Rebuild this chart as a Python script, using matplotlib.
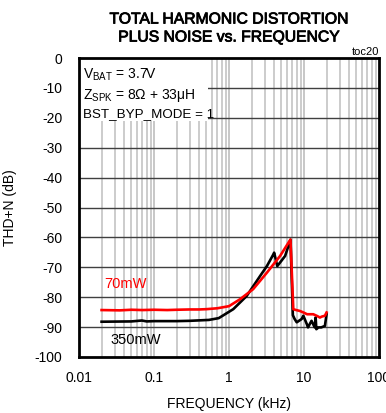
import matplotlib
matplotlib.use("Agg")
import matplotlib.pyplot as plt
import matplotlib.patheffects as pe
import numpy as np

# ---- data ----
freq_70mw = [0.02, 0.035, 0.05, 0.07, 0.1, 0.15, 0.2, 0.3, 0.4, 0.5, 0.7, 1.0, 1.4, 2.1, 3.2, 4.8, 6.6,
             7.2, 7.6, 8.8, 9.8, 11.0, 13.3, 15.0, 16.3, 17.2, 19.0, 20.0]
thd_70mw = [-84.3, -84.4, -84.2, -84.3, -84.2, -84.3, -84.2, -84.1, -84.1, -84.0, -83.7, -83.0, -80.7, -77.3,
            -71.8, -66.2, -60.7, -84.0, -84.2, -84.6, -85.1, -85.7, -85.7, -86.3, -86.8, -86.5, -86.2, -85.1]

freq_350mw = [0.02, 0.05, 0.069, 0.08, 0.1, 0.2, 0.3, 0.54, 0.73, 0.94, 1.14, 1.72, 2.6, 3.2, 3.9, 4.0,
              4.4, 4.8, 5.6, 6.6, 7.1, 7.5, 8.0, 9.3, 9.8, 10.9, 11.3, 12.6, 13.9, 14.3, 14.6, 15.6, 17.0,
              19.0, 20.0]
thd_350mw = [-88.2, -88.1, -87.8, -88.1, -88.0, -88.0, -87.9, -87.6, -87.0, -85.3, -84.0, -79.6, -72.9,
             -69.6, -65.7, -65.1, -69.6, -68.4, -66.2, -60.8, -86.0, -87.3, -88.4, -87.3, -86.2, -89.0,
             -90.1, -87.9, -90.1, -86.8, -90.7, -90.1, -90.1, -89.6, -85.7]

x_ticks = [0.01, 0.1, 1, 10, 100]
x_tick_labels = ["0.01", "0.1", "1", "10", "100"]
y_ticks = list(range(-100, 1, 10))

title = "TOTAL HARMONIC DISTORTION\nPLUS NOISE vs. FREQUENCY"

# ---- style ----
plt.rcParams['font.family'] = ['Liberation Sans', 'DejaVu Sans']
plt.rcParams['mathtext.fontset'] = 'custom'
plt.rcParams['mathtext.rm'] = 'Liberation Sans'
plt.rcParams['mathtext.it'] = 'Liberation Sans'
plt.rcParams['axes.unicode_minus'] = False

fig = plt.figure(figsize=(3.86, 4.13), dpi=100)
ax = fig.add_axes([79/386, 1-357/413, 300/386, 299/413])
ax.set_xscale('log')
ax.set_xlim(0.01, 100)
ax.set_ylim(-100, 0)

# grid
for dec in [0.01, 0.1, 1, 10]:
    for m in range(1, 11):
        v = dec * m
        if 0.01 < v < 100:
            ax.axvline(v, color='#c8c8c8', lw=1.3, zorder=0.5)
for yv in y_ticks[1:-1]:
    ax.axhline(yv, color='#404040', lw=1.0, zorder=0.6)

ax.plot(freq_350mw, thd_350mw, color='black', lw=1.9, zorder=3)
ax.plot(freq_70mw, thd_70mw, color='#ff0000', lw=1.9, zorder=4)

ax.set_xticks(x_ticks)
ax.set_xticklabels(x_tick_labels)
ax.set_yticks(y_ticks)
ax.xaxis.set_minor_locator(matplotlib.ticker.NullLocator())
ax.tick_params(axis='both', length=0, labelsize=10, colors='black')
ax.tick_params(axis='x', pad=10)
ax.tick_params(axis='y', pad=12)
for s in ax.spines.values():
    s.set_linewidth(2)
    s.set_color('black')
    s.set_zorder(5)

ax.set_xlabel("FREQUENCY (kHz)", fontsize=10, labelpad=9)
ax.set_ylabel("THD+N (dB)", fontsize=10, labelpad=13)

fig.text(229/386, 1-28/413, title, ha='center', va='center', fontsize=11.3,
         linespacing=1.25,
         path_effects=[pe.withStroke(linewidth=0.6, foreground='black')])
ax.text(1.0, 1.005, "toc20", transform=ax.transAxes, ha='right', va='bottom', fontsize=8)

# condition box
ax.add_patch(matplotlib.patches.Rectangle((0, 0.79), 0.43, 0.21, transform=ax.transAxes,
                                          facecolor='white', edgecolor='none', zorder=1))
ax.text(0.012, 0.945, r"V$_{\mathrm{BAT}}$ = 3.7V", transform=ax.transAxes, fontsize=10, va='center', zorder=2)
ax.text(0.012, 0.875, r"Z$_{\mathrm{SPK}}$ = 8Ω + 33μH", transform=ax.transAxes, fontsize=10, va='center', zorder=2)
ax.text(0.012, 0.812, "BST_BYP_MODE = 1", transform=ax.transAxes, fontsize=9.6, va='center', zorder=2)

ax.text(0.022, -75.7, "70mW", color='#ff0000', fontsize=10.5, va='center', ha='left', zorder=6)
ax.text(0.026, -94.3, "350mW", color='black', fontsize=10.5, va='center', ha='left', zorder=6)

fig.savefig("out.png", dpi=100)
